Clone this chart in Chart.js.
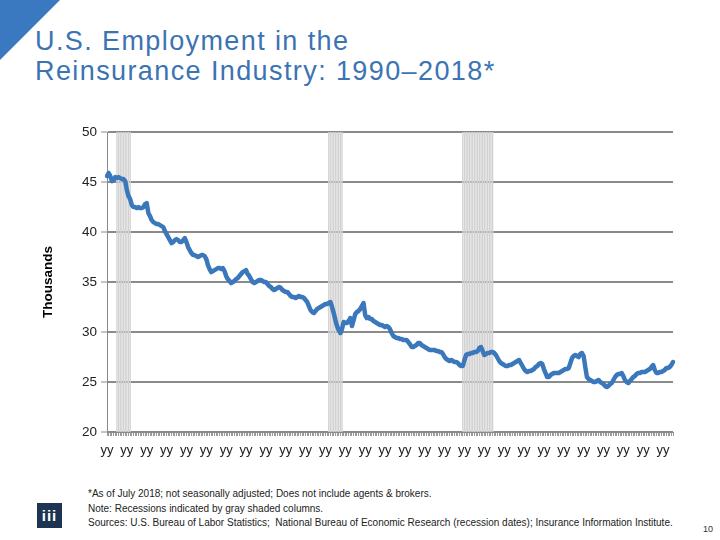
<!DOCTYPE html>
<html lang="en">
<head>
  <meta charset="UTF-8">
  <title>U.S. Employment in the Reinsurance Industry: 1990–2018*</title>
  <script src="https://cdn.jsdelivr.net/npm/chart.js"></script>
  <style>
    body {
      margin: 0;
      width: 720px;
      height: 540px;
      position: relative;
      overflow: hidden;
      background: #fff;
      font-family: 'Liberation Sans', Arial, sans-serif;
    }
    .corner {
      position: absolute;
      left: 0; top: 0;
      width: 60px; height: 60px;
      background: #3a78c0;
      clip-path: polygon(0 0, 100% 0, 0 100%);
    }
    h1 {
      position: absolute;
      left: 35px; top: 26px;
      margin: 0;
      font-weight: normal;
      font-size: 27px;
      line-height: 30px;
      letter-spacing: 1.4px;
      color: #3b73b3;
    }
    #chartBox {
      position: absolute;
      left: 0; top: 120px;
      width: 690px; height: 340px;
    }
    .notes {
      position: absolute;
      left: 88px; top: 487px;
      font-size: 10px;
      line-height: 14.5px;
      color: #222;
    }
    .logo {
      position: absolute;
      left: 37px; top: 503px;
      width: 25px; height: 25px;
      background: #1d3552;
      color: #fff;
      font-weight: bold;
      font-size: 15px;
      line-height: 25px;
      text-align: center;
      letter-spacing: 1px;
    }
    .page {
      position: absolute;
      left: 703px; top: 524px;
      font-size: 9px;
      color: #333;
    }
  </style>
</head>
<body>
  <div class="corner"></div>
  <h1>U.S. Employment in the<br>Reinsurance Industry: 1990–2018*</h1>
  <div id="chartBox"><canvas id="employmentChart"></canvas></div>
  <div class="logo">iii</div>
  <div class="notes">
    *As of July 2018; not seasonally adjusted; Does not include agents &amp; brokers.<br>
    Note: Recessions indicated by gray shaded columns.<br>
    Sources: U.S. Bureau of Labor Statistics;&nbsp; National Bureau of Economic Research (recession dates); Insurance Information Institute.
  </div>
  <div class="page">10</div>

  <script>
    // monthly, Jan 1990 .. Jul 2018 (thousands)
    const years = [1990, 1991, 1992, 1993, 1994, 1995, 1996, 1997, 1998, 1999,
                   2000, 2001, 2002, 2003, 2004, 2005, 2006, 2007, 2008, 2009,
                   2010, 2011, 2012, 2013, 2014, 2015, 2016, 2017, 2018];
    const lastMonth2018 = 7;

    const employment1990s = [
      45.6, 45.9, 45.6, 45.1, 45.2, 45.5, 45.4, 45.5, 45.4, 45.3, 45.3, 45.1,
      44.2, 43.6, 43.3, 42.7, 42.5, 42.5, 42.4, 42.5, 42.4, 42.4, 42.5, 42.8,
      42.9, 41.9, 41.6, 41.2, 41.0, 40.9, 40.8, 40.8, 40.7, 40.6, 40.5, 40.1,
      39.8, 39.5, 39.2, 38.9, 39.0, 39.2, 39.3, 39.2, 39.0, 39.0, 39.2, 39.4,
      39.0, 38.5, 38.2, 37.9, 37.7, 37.7, 37.6, 37.5, 37.6, 37.7, 37.7, 37.6,
      37.3, 36.7, 36.3, 36.0, 36.1, 36.2, 36.3, 36.4, 36.4, 36.3, 36.4, 36.1,
      35.6, 35.3, 35.1, 34.9, 35.0, 35.1, 35.3, 35.4, 35.6, 35.8, 36.0, 36.1,
      36.2, 35.8, 35.6, 35.3, 35.0, 34.9, 35.0, 35.1, 35.2, 35.2, 35.1, 35.0,
      35.0, 34.8, 34.6, 34.5, 34.3, 34.2, 34.3, 34.4, 34.5, 34.4, 34.2, 34.1,
      34.0, 34.0, 33.8, 33.6, 33.5, 33.5, 33.4, 33.5, 33.6, 33.5, 33.5, 33.4
    ];
    const employment2000s = [
      33.2, 33.0, 32.6, 32.2, 32.0, 31.9, 32.1, 32.3, 32.4, 32.5, 32.6, 32.7,
      32.8, 32.8, 32.9, 33.0, 32.5, 31.9, 31.2, 30.6, 30.2, 29.9, 30.3, 31.0,
      30.9, 30.9, 31.1, 31.4, 30.6, 31.2, 31.8, 32.0, 32.1, 32.3, 32.6, 32.9,
      31.7, 31.4, 31.5, 31.3, 31.3, 31.1, 31.0, 30.9, 30.8, 30.7, 30.7, 30.6,
      30.5, 30.6, 30.5, 30.3, 29.9, 29.6, 29.5, 29.4, 29.4, 29.3, 29.3, 29.2,
      29.2, 29.2, 29.0, 28.8, 28.5, 28.5, 28.6, 28.7, 28.9, 28.9, 28.7, 28.6,
      28.5, 28.4, 28.3, 28.2, 28.2, 28.2, 28.2, 28.1, 28.1, 28.0, 28.0, 27.8,
      27.5, 27.3, 27.2, 27.1, 27.2, 27.1, 27.0, 27.0, 26.9, 26.7, 26.6, 26.6,
      27.2, 27.7, 27.8, 27.8, 27.9, 27.9, 28.0, 28.0, 28.1, 28.4, 28.5, 28.1,
      27.7, 27.8, 27.9, 27.9, 28.0, 28.0, 27.9, 27.7, 27.4, 27.1, 26.9, 26.8
    ];
    const employment2010s = [
      26.7, 26.6, 26.6, 26.7, 26.7, 26.8, 26.9, 27.0, 27.1, 27.2, 26.9, 26.6,
      26.3, 26.1, 26.0, 26.1, 26.1, 26.2, 26.3, 26.5, 26.6, 26.8, 26.9, 26.8,
      26.3, 25.9, 25.5, 25.5, 25.7, 25.8, 25.9, 25.9, 25.9, 25.9, 26.0, 26.1,
      26.2, 26.3, 26.3, 26.4, 26.9, 27.4, 27.6, 27.7, 27.6, 27.5, 27.8, 27.9,
      27.6, 26.5, 25.5, 25.3, 25.2, 25.1, 25.0, 25.0, 25.1, 25.2, 25.0, 24.9,
      24.8, 24.6, 24.5, 24.6, 24.8, 24.9, 25.2, 25.5, 25.7, 25.8, 25.8, 25.9,
      25.6, 25.2, 25.0, 24.9, 25.1, 25.3, 25.5, 25.6, 25.8, 25.9, 25.9, 26.0,
      26.0, 26.0, 26.1, 26.2, 26.3, 26.5, 26.7, 26.2, 25.9, 25.9, 26.0, 26.0,
      26.1, 26.2, 26.4, 26.4, 26.5, 26.7, 27.0
    ];

    // NBER recessions, first and last month
    const recessions = [
      ['1990-07', '1991-03'],
      ['2001-03', '2001-11'],
      ['2007-12', '2009-06']
    ];

    const yTicks = [20, 25, 30, 35, 40, 45, 50];

    const months = [];
    years.forEach(y => {
      const n = y === 2018 ? lastMonth2018 : 12;
      for (let m = 1; m <= n; m++) months.push(y + '-' + String(m).padStart(2, '0'));
    });
    const employment = employment1990s.concat(employment2000s, employment2010s);
    const recessionBars = months.map(m =>
      recessions.some(r => m >= r[0] && m <= r[1]) ? yTicks[yTicks.length - 1] : null);

    Chart.defaults.font.family = "'Liberation Sans', Arial, sans-serif";

    new Chart(document.getElementById('employmentChart'), {
      type: 'line',
      data: {
        labels: months,
        datasets: [{
          label: 'Reinsurance employment',
          data: employment,
          borderColor: '#3a77bb',
          borderWidth: 4.5,
          pointRadius: 0,
          tension: 0,
          borderJoinStyle: 'round',
          borderCapStyle: 'round',
          order: 0
        }, {
          type: 'bar',
          label: 'Recession',
          data: recessionBars,
          backgroundColor: '#d2d2d2',
          barThickness: 0.7,
          order: 1
        }]
      },
      options: {
        responsive: true,
        maintainAspectRatio: false,
        animation: false,
        layout: { padding: { top: 12, right: 17, left: 0, bottom: 0 } },
        plugins: { legend: { display: false }, tooltip: { enabled: false } },
        scales: {
          x: {
            offset: false,
            grid: { offset: false, drawOnChartArea: false, tickLength: 4, color: '#9a9a9a' },
            border: { color: '#8a8a8a' },
            ticks: {
              autoSkip: false, maxRotation: 0, minRotation: 0, padding: 7,
              font: { size: 13 }, color: '#222',
              callback: (v, i) => i % 12 === 0 ? 'yy' : ''
            },
            afterFit: s => { s.height = 28; }
          },
          y: {
            min: 20, max: 50,
            afterBuildTicks: s => { s.ticks = yTicks.map(v => ({ value: v })); },
            ticks: { padding: 4, font: { size: 13.5 }, color: '#222' },
            grid: { color: '#8a8a8a', lineWidth: 2, tickLength: 6, tickColor: '#8a8a8a', tickWidth: 1 },
            border: { color: '#8a8a8a', width: 1 },
            title: {
              display: true, text: 'Thousands', color: '#000',
              font: { size: 13.5, weight: 'bold' },
              padding: { top: 40, bottom: 0 }
            },
            afterFit: s => { s.width = 107; }
          }
        }
      }
    });
  </script>
</body>
</html>
